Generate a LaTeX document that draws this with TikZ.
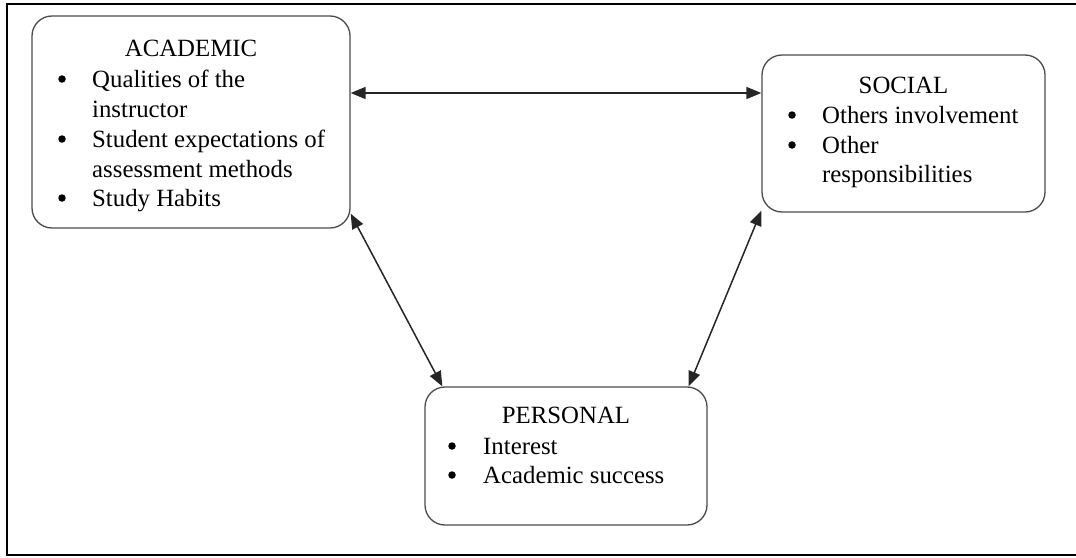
\documentclass[tikz,border=0pt]{standalone}
\usepackage{fontspec}
\setmainfont{Liberation Serif}
\usetikzlibrary{arrows.meta}
\begin{document}
\begin{tikzpicture}[x=1pt,y=-1pt,
  box/.style={draw=black!70,line width=1.3pt,rounded corners=20pt,minimum width=#1,inner sep=0pt},
  txt/.style={anchor=base west,inner sep=0pt,font=\fontsize{24.8}{29.6}\selectfont},
  ttl/.style={anchor=base,inner sep=0pt,font=\fontsize{24.8}{29.6}\selectfont},
  bul/.style={circle,fill=black,inner sep=0pt,minimum size=7.5pt},
  arr/.style={draw=black!85,line width=1.5pt,{Triangle[length=15pt,width=12pt]}-{Triangle[length=15pt,width=12pt]}}]
\useasboundingbox (0,0) rectangle (1076,557);
\fill[white] (0,0) rectangle (1076,557);
\draw[line width=2.6pt] (1076,4) -- (7,4) -- (7,555) -- (1076,555);
% boxes
\node[box=318pt,minimum height=212pt] (A) at (191,122) {};
\node[box=283pt,minimum height=157pt] (S) at (903.5,133.5) {};
\node[box=282pt,minimum height=138pt] (P) at (566,456) {};
% academic
\node[ttl] (at) at (191,56) {ACADEMIC};
\node[bul] (ab1) at (62,79) {};
\node[txt] (a1) at (92,87) {Qualities of the};
\node[txt] (a1b) at (92,117) {instructor};
\node[bul] (ab2) at (62,139) {};
\node[txt] (a2) at (92,147) {Student expectations of};
\node[txt] (a2b) at (92,177) {assessment methods};
\node[bul] (ab3) at (62,198) {};
\node[txt] (a3) at (92,206) {Study Habits};
% social
\node[ttl] (st) at (903.5,93) {SOCIAL};
\node[bul] (sb1) at (792,115) {};
\node[txt] (s1) at (822,123) {Others involvement};
\node[bul] (sb2) at (792,145) {};
\node[txt] (s2) at (822,153) {Other};
\node[txt] (s2b) at (822,182) {responsibilities};
% personal
\node[ttl] (pt) at (566,423) {PERSONAL};
\node[bul] (pb1) at (452,446) {};
\node[txt] (p1) at (483,454) {Interest};
\node[bul] (pb2) at (452,475) {};
\node[txt] (p2) at (483,483) {Academic success};
% connectors
\draw[arr] ([yshift=29pt]A.east) -- ([yshift=40.5pt]S.west);
\draw[arr] ([yshift=15pt]A.south east) -- ([xshift=18pt]P.north west);
\draw[arr] ([yshift=2pt]S.south west) -- ([xshift=-19pt]P.north east);
\end{tikzpicture}
\end{document}
